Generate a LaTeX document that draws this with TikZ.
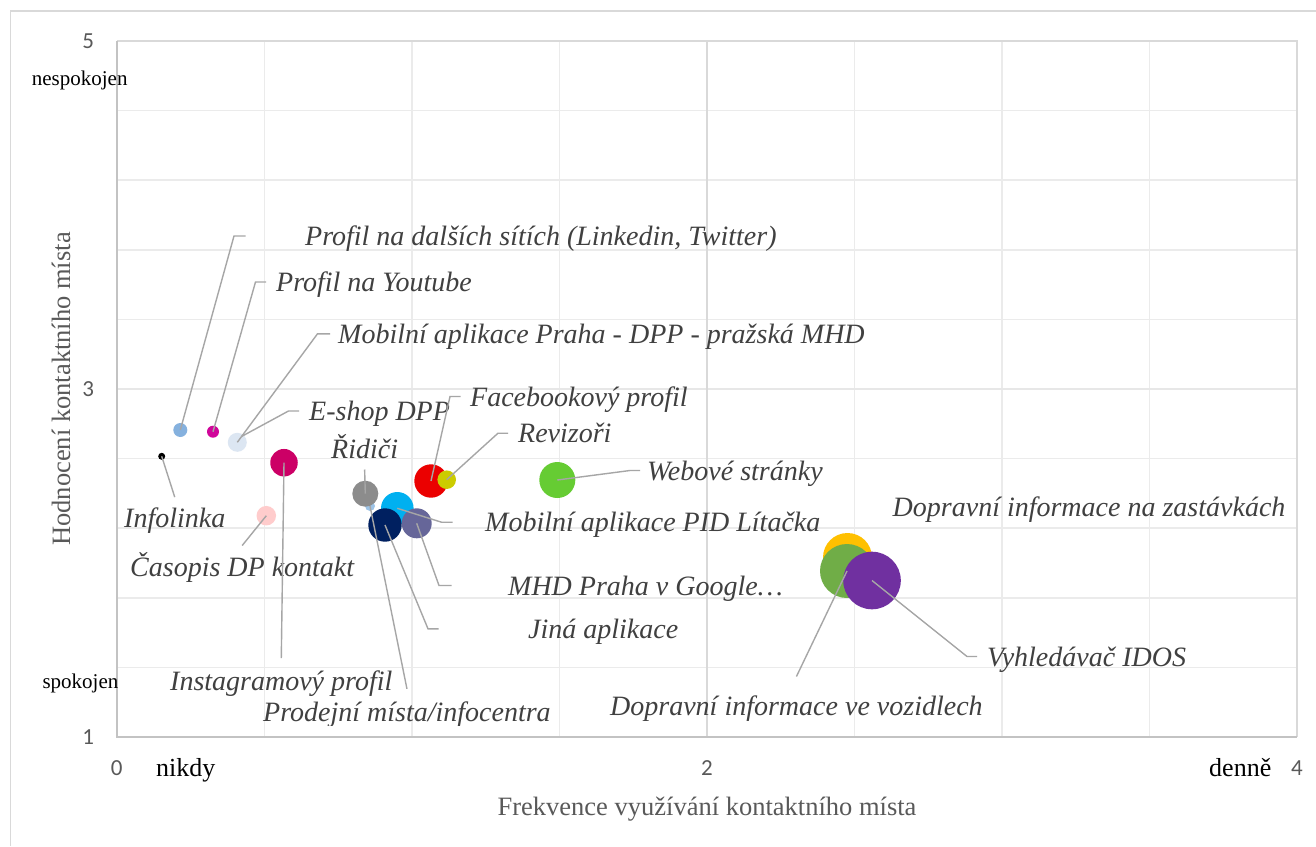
\documentclass[tikz,border=0pt]{standalone}
\usepackage{fontspec}
\setmainfont{Liberation Serif}
\newfontfamily\numfont{Carlito}

\definecolor{gridc}{HTML}{EBEBEB}
\definecolor{midaxis}{HTML}{D9D9D9}
\definecolor{axisc}{HTML}{C3C3C3}
\definecolor{framec}{HTML}{D9D9D9}
\definecolor{leaderc}{HTML}{A6A6A6}
\definecolor{labelc}{HTML}{404040}
\definecolor{tickc}{HTML}{595959}
% bubble fills
\definecolor{cInfolinka}{HTML}{000000}
\definecolor{cDalsi}{HTML}{85B1DE}
\definecolor{cYoutube}{HTML}{D0069A}
\definecolor{cPraha}{HTML}{DCE6F2}
\definecolor{cInstagram}{HTML}{CC0066}
\definecolor{cCasopis}{HTML}{FFCCCC}
\definecolor{cRidici}{HTML}{8C8C8C}
\definecolor{cProdejni}{HTML}{9DC3E6}
\definecolor{cLitacka}{HTML}{00B0F0}
\definecolor{cJina}{HTML}{002060}
\definecolor{cGoogle}{HTML}{666699}
\definecolor{cFacebook}{HTML}{EB0000}
\definecolor{cRevizori}{HTML}{CCCC00}
\definecolor{cWeb}{HTML}{66CC33}
\definecolor{cZastavky}{HTML}{FFC000}
\definecolor{cVozidla}{HTML}{70AD47}
\definecolor{cIdos}{HTML}{7030A0}

\begin{document}
\begin{tikzpicture}[x=1pt,y=-1pt,
  gridline/.style={draw=gridc,line width=1.6pt},
  axisline/.style={draw=axisc,line width=1.6pt},
  leader/.style={draw=leaderc,line width=1.4pt},
  bubble/.style={circle,draw=none,inner sep=0pt},
  lbl/.style={anchor=base west,inner sep=0pt,text height=19pt,text depth=0pt,
    text=labelc,font=\fontsize{28}{30}\selectfont\itshape},
  tick/.style={inner sep=0pt,text=tickc,font=\numfont\fontsize{23}{25}\selectfont},
  endlbl/.style={anchor=base west,inner sep=0pt,text=black},
  axtitle/.style={anchor=base,inner sep=0pt,text=tickc,font=\fontsize{26.5}{28}\selectfont}]

\useasboundingbox (0,0) rectangle (1316,846);
\fill[white] (0,0) rectangle (1316,846);

% outer chart frame
\draw[draw=framec,line width=1.5pt] (10.5,846) -- (10.5,11) -- (1316,11);

% grid
\foreach \gx in {264.5,412,559.5,854.5,1002,1149.5}
  \draw[gridline] (\gx,41) -- (\gx,737);
\foreach \gy in {110.6,180.2,249.8,319.4,458.6,528.2,597.8,667.4}
  \draw[gridline] (117,\gy) -- (1297,\gy);
\draw[draw=gridc!80!midaxis,line width=1.6pt] (117,389) -- (1297,389);
\draw[draw=midaxis,line width=1.6pt] (707,41) -- (707,737);
% plot frame and axes
\draw[draw=framec,line width=1.5pt] (117,41) -- (1297,41) -- (1297,737);
\draw[axisline] (117,41) -- (117,737) -- (1297,737);

% bubbles
\node[bubble,fill=cInfolinka,minimum size=7pt]  (bInfolinka) at (161.7,456.3) {};
\node[bubble,fill=cDalsi,minimum size=14pt]     (bDalsi)     at (180.3,430) {};
\node[bubble,fill=cYoutube,minimum size=12pt]   (bYoutube)   at (213,431.7) {};
\node[bubble,fill=cPraha,minimum size=19pt]     (bPraha)     at (237.3,442.3) {};
\coordinate (pEshop) at (241.5,436.5);
\node[bubble,fill=cInstagram,minimum size=27.5pt] (bInstagram) at (284,462.7) {};
\node[bubble,fill=cCasopis,minimum size=19.5pt] (bCasopis)   at (266.3,515.7) {};
\node[bubble,fill=cProdejni,minimum size=10pt]  (bProdejni)  at (370,506) {};
\node[bubble,fill=cRidici,minimum size=26pt]    (bRidici)    at (365.3,493.7) {};
\node[bubble,fill=cLitacka,minimum size=32.6pt] (bLitacka)   at (397.3,508.3) {};
\node[bubble,fill=cJina,minimum size=33.4pt]    (bJina)      at (385,525) {};
\node[bubble,fill=cGoogle,minimum size=30pt]    (bGoogle)    at (416.7,523.3) {};
\node[bubble,fill=cFacebook,minimum size=33.4pt] (bFacebook) at (431,481) {};
\node[bubble,fill=cRevizori,minimum size=18.6pt] (bRevizori) at (446.7,479.7) {};
\node[bubble,fill=cWeb,minimum size=36pt]       (bWeb)       at (557.3,480) {};
\node[bubble,fill=cZastavky,minimum size=49pt]  (bZastavky)  at (847.5,557.5) {};
\node[bubble,fill=cVozidla,minimum size=54pt]   (bVozidla)   at (847,571) {};
\node[bubble,fill=cIdos,minimum size=57.6pt]    (bIdos)      at (872,580.5) {};

% data labels
\node[lbl] (lDalsi)     at (305,245.5) {Profil na dalších sítích (Linkedin, Twitter)};
\node[lbl] (lYoutube)   at (276,291.5) {Profil na Youtube};
\node[lbl] (lPraha)     at (338,343.3) {Mobilní aplikace Praha - DPP - pražská MHD};
\node[lbl] (lEshop)     at (309,420.5) {E-shop DPP};
\node[lbl] (lRidici)    at (331,458.3) {Řidiči};
\node[lbl] (lFacebook)  at (470,406)   {Facebookový profil};
\node[lbl] (lRevizori)  at (518,442.7) {Revizoři};
\node[lbl] (lWeb)       at (647,480)   {Webové stránky};
\node[lbl] (lInfolinka) at (124,527.3) {Infolinka};
\node[lbl] (lLitacka)   at (485,531.7) {Mobilní aplikace PID Lítačka};
\node[lbl] (lCasopis)   at (130,576.7) {Časopis DP kontakt};
\node[lbl] (lGoogle)    at (508,595)   {MHD Praha v Google…};
\node[lbl] (lJina)      at (528,638.3) {Jiná aplikace};
\node[lbl] (lZastavky)  at (892.5,516.7) {Dopravní informace na zastávkách};
\node[lbl] (lIdos)      at (987,666)   {Vyhledávač IDOS};
\node[lbl] (lVozidla)   at (610,715)   {Dopravní informace ve vozidlech};
\node[lbl] (lInstagram) at (170,690)   {Instagramový profil};
\begin{scope}
  \clip (0,0) rectangle (1316,725);
  \node[lbl] (lProdejni) at (263,721.7) {Prodejní místa/infocentra};
\end{scope}

% leader lines
\draw[leader] ([xshift=-59.5pt]lDalsi.west) -- ++(-11.5,0) -- (bDalsi.center);
\draw[leader] ([xshift=-10pt]lYoutube.west) -- ++(-10.5,0) -- (bYoutube.center);
\draw[leader] ([xshift=-8pt]lPraha.west) -- ++(-12.5,0) -- (bPraha.center);
\draw[leader] ([xshift=-10pt]lEshop.west) -- ++(-10.5,0) -- (pEshop);
\draw[leader] ([xshift=-9.5pt]lFacebook.west) -- ++(-10.5,0) -- (bFacebook.center);
\draw[leader] ([xshift=-10pt]lRevizori.west) -- ++(-10,0) -- (bRevizori.center);
\draw[leader] ([xshift=-7pt]lWeb.west) -- ++(-10,0) -- (bWeb.center);
\draw[leader] ([xshift=-32.5pt]lLitacka.west) -- ++(-11,0) -- (bLitacka.center);
\draw[leader] ([xshift=-56.5pt]lGoogle.west) -- ++(-12.5,0) -- (bGoogle.center);
\draw[leader] ([xshift=-89.5pt]lJina.west) -- ++(-10.5,0) -- (bJina.center);
\draw[leader] ([xshift=-10pt]lIdos.west) -- ++(-10,0) -- (bIdos.center);
\draw[leader] ([yshift=11pt]lInfolinka.north) -- (bInfolinka.center);
\draw[leader] ([yshift=12pt]lCasopis.north) -- (bCasopis.center);
\draw[leader] ([yshift=12.7pt]lInstagram.north) -- (bInstagram.center);
\draw[leader] ([yshift=-11pt]lRidici.south) -- (bRidici.center);
\draw[leader] ([yshift=13.7pt]lProdejni.north) -- (bProdejni.center);
\draw[leader] ([yshift=19.3pt]lVozidla.north) -- (bVozidla.center);

% axis numbers
\node[tick] (t5) at (88.3,40.7) {5};
\node[tick] (t3) at (88.3,389) {3};
\node[tick] (t1) at (88.3,737) {1};
\node[tick] (t0) at (116.7,768.5) {0};
\node[tick] (t2) at (707,768.5) {2};
\node[tick] (t4) at (1297,768.5) {4};

% scale end descriptions
\node[endlbl,font=\fontsize{21}{23}\selectfont] (nesp) at (31.7,85) {nespokojen};
\node[endlbl,font=\fontsize{21}{23}\selectfont] (spok) at (42.3,688.3) {spokojen};
\node[endlbl,font=\fontsize{26}{28}\selectfont] (nikdy) at (156,776.7) {nikdy};
\node[endlbl,font=\fontsize{26}{28}\selectfont] (denne) at (1209,776.7) {denně};

% axis titles
\node[axtitle] (xtitle) at (707,815) {Frekvence využívání kontaktního místa};
\node[axtitle,rotate=90] (ytitle) at (70,389) {Hodnocení kontaktního místa};
\end{tikzpicture}
\end{document}
